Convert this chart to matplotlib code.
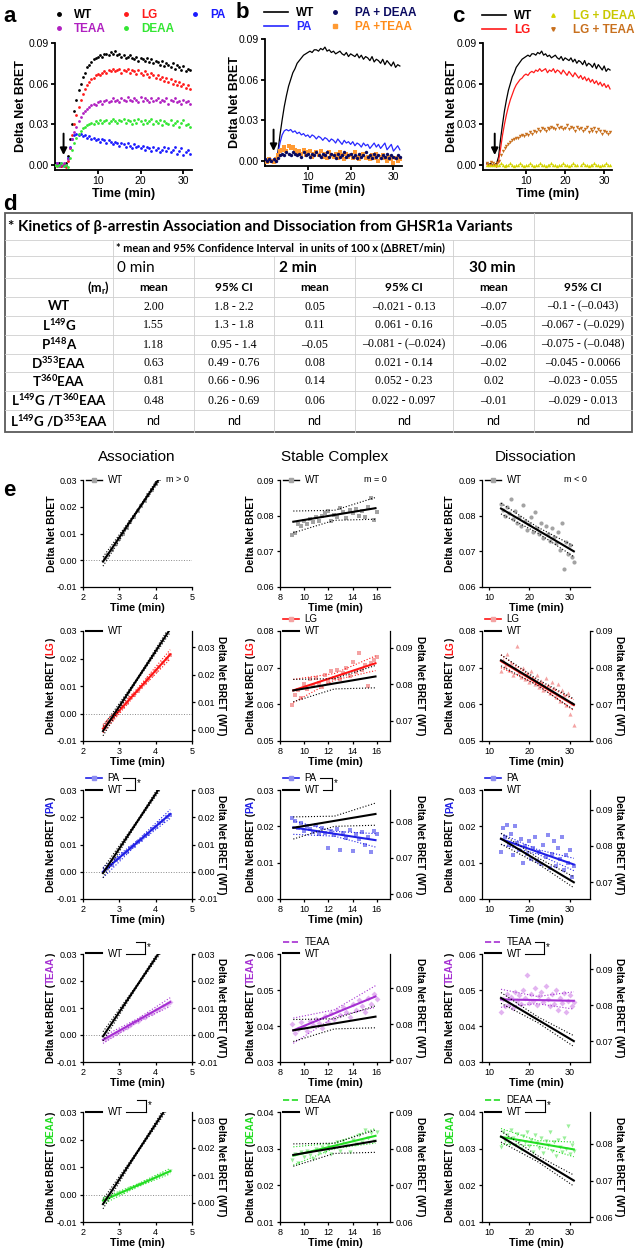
import numpy as np
import matplotlib
matplotlib.use("Agg")
import matplotlib.pyplot as plt
from matplotlib.lines import Line2D
from matplotlib.ticker import MultipleLocator, FormatStrFormatter

plt.rcParams['font.family'] = ['Liberation Sans', 'DejaVu Sans']
plt.rcParams['mathtext.fontset'] = 'custom'
plt.rcParams['mathtext.rm'] = 'Lato'
plt.rcParams['mathtext.bf'] = 'Lato:bold'
plt.rcParams['axes.unicode_minus'] = False

# ---------------- kinetic traces (panels a-c), one value every 0.5 min ----------------
time = np.arange(0, 32, 0.5)
stim_time = 2.0

wt = [0.001, 0.000, 0.001, -0.001, 0.000, 0.001, 0.006, 0.019,
      0.030, 0.040, 0.048, 0.055, 0.060, 0.065, 0.068, 0.072,
      0.074, 0.076, 0.078, 0.079, 0.080, 0.081, 0.080, 0.082,
      0.082, 0.081, 0.083, 0.082, 0.084, 0.081, 0.082, 0.080,
      0.081, 0.079, 0.080, 0.081, 0.079, 0.078, 0.080, 0.077,
      0.079, 0.078, 0.077, 0.079, 0.076, 0.078, 0.075, 0.077,
      0.076, 0.074, 0.077, 0.073, 0.075, 0.074, 0.072, 0.075,
      0.071, 0.074, 0.072, 0.070, 0.073, 0.069, 0.071, 0.070]
lg = [0.000, -0.001, 0.000, -0.001, 0.000, -0.002, 0.003, 0.012,
      0.022, 0.030, 0.037, 0.043, 0.048, 0.052, 0.056, 0.059,
      0.061, 0.063, 0.064, 0.066, 0.067, 0.066, 0.068, 0.069,
      0.068, 0.070, 0.069, 0.071, 0.069, 0.070, 0.071, 0.068,
      0.070, 0.069, 0.071, 0.068, 0.070, 0.069, 0.067, 0.070,
      0.068, 0.066, 0.069, 0.067, 0.065, 0.068, 0.066, 0.064,
      0.066, 0.063, 0.065, 0.062, 0.064, 0.061, 0.063, 0.060,
      0.062, 0.059, 0.061, 0.058, 0.060, 0.057, 0.059, 0.056]
pa = [0.000, 0.001, 0.000, 0.001, -0.001, 0.000, 0.005, 0.013,
      0.019, 0.022, 0.023, 0.022, 0.023, 0.021, 0.022, 0.020,
      0.021, 0.019, 0.020, 0.018, 0.019, 0.017, 0.019, 0.018,
      0.016, 0.018, 0.017, 0.015, 0.017, 0.016, 0.014, 0.016,
      0.015, 0.013, 0.016, 0.014, 0.012, 0.015, 0.013, 0.014,
      0.012, 0.014, 0.011, 0.013, 0.012, 0.010, 0.013, 0.011,
      0.012, 0.009, 0.011, 0.013, 0.010, 0.012, 0.009, 0.011,
      0.013, 0.008, 0.010, 0.012, 0.007, 0.009, 0.011, 0.008]
teaa = [0.000, 0.001, -0.001, 0.000, 0.001, 0.000, 0.004, 0.012,
        0.019, 0.024, 0.028, 0.032, 0.035, 0.038, 0.040, 0.041,
        0.043, 0.044, 0.045, 0.044, 0.046, 0.047, 0.045, 0.047,
        0.048, 0.046, 0.047, 0.049, 0.047, 0.048, 0.046, 0.049,
        0.048, 0.047, 0.050, 0.048, 0.047, 0.049, 0.048, 0.046,
        0.050, 0.047, 0.049, 0.048, 0.046, 0.049, 0.047, 0.048,
        0.049, 0.046, 0.048, 0.047, 0.049, 0.045, 0.048, 0.047,
        0.049, 0.046, 0.047, 0.045, 0.048, 0.046, 0.047, 0.045]
deaa = [0.000, -0.001, 0.000, 0.001, -0.001, 0.000, -0.002, 0.005,
        0.011, 0.016, 0.020, 0.023, 0.025, 0.027, 0.028, 0.029,
        0.030, 0.031, 0.030, 0.032, 0.031, 0.033, 0.031, 0.032,
        0.033, 0.031, 0.032, 0.034, 0.032, 0.031, 0.033, 0.032,
        0.034, 0.031, 0.033, 0.032, 0.030, 0.033, 0.031, 0.034,
        0.032, 0.030, 0.033, 0.031, 0.032, 0.034, 0.030, 0.032,
        0.031, 0.033, 0.029, 0.032, 0.031, 0.030, 0.033, 0.029,
        0.031, 0.032, 0.028, 0.031, 0.033, 0.029, 0.030, 0.028]
pa_deaa = [0.001, 0.000, 0.001, 0.000, 0.001, 0.000, 0.002, 0.004,
           0.005, 0.004, 0.006, 0.005, 0.004, 0.006, 0.005, 0.004,
           0.005, 0.003, 0.006, 0.004, 0.005, 0.003, 0.005, 0.004,
           0.006, 0.004, 0.003, 0.005, 0.004, 0.006, 0.003, 0.005,
           0.004, 0.002, 0.005, 0.003, 0.004, 0.006, 0.003, 0.004,
           0.005, 0.003, 0.004, 0.002, 0.005, 0.003, 0.004, 0.006,
           0.003, 0.004, 0.002, 0.005, 0.003, 0.004, 0.002, 0.004,
           0.003, 0.005, 0.002, 0.004, 0.003, 0.002, 0.004, 0.003]
pa_teaa = [0.000, -0.001, 0.001, 0.000, -0.001, 0.001, 0.004, 0.007,
           0.008, 0.010, 0.007, 0.011, 0.009, 0.010, 0.008, 0.006,
           0.007, 0.005, 0.008, 0.004, 0.006, 0.007, 0.003, 0.005,
           0.006, 0.004, 0.007, 0.003, 0.005, 0.002, 0.006, 0.004,
           0.003, 0.005, 0.002, 0.006, 0.004, 0.001, 0.005, 0.003,
           0.004, 0.002, 0.006, 0.003, 0.001, 0.004, 0.005, 0.002,
           0.003, 0.001, 0.004, 0.002, 0.005, 0.000, 0.003, 0.004,
           0.002, 0.000, 0.003, 0.001, -0.002, 0.002, 0.000, 0.001]
lg_deaa = [0.000, 0.000, 0.000, 0.000, 0.000, 0.000, 0.000, 0.001,
           0.000, -0.001, 0.000, 0.000, 0.001, 0.000, -0.001, 0.000,
           0.000, 0.001, 0.000, -0.001, 0.000, 0.000, 0.001, 0.000,
           -0.001, 0.000, 0.000, 0.001, 0.000, 0.000, -0.001, 0.000,
           0.000, 0.001, 0.000, 0.000, -0.001, 0.000, 0.000, 0.001,
           0.000, 0.000, -0.001, 0.000, 0.001, 0.000, 0.000, -0.007,
           0.000, 0.001, 0.000, 0.000, -0.001, 0.000, 0.000, 0.001,
           0.000, 0.000, -0.001, 0.000, 0.000, 0.001, 0.000, 0.000]
lg_teaa = [0.001, 0.000, 0.002, 0.001, 0.000, 0.001, 0.003, 0.007,
           0.010, 0.012, 0.014, 0.015, 0.017, 0.018, 0.019, 0.020,
           0.020, 0.021, 0.022, 0.021, 0.023, 0.022, 0.024, 0.023,
           0.025, 0.024, 0.026, 0.025, 0.027, 0.026, 0.025, 0.027,
           0.026, 0.028, 0.027, 0.026, 0.029, 0.027, 0.028, 0.026,
           0.027, 0.029, 0.026, 0.028, 0.027, 0.025, 0.028, 0.026,
           0.027, 0.025, 0.026, 0.028, 0.024, 0.026, 0.025, 0.027,
           0.024, 0.026, 0.025, 0.023, 0.025, 0.024, 0.023, 0.024]

# ---------------- table (panel d) ----------------
table_title = "* Kinetics of \u03b2-arrestin Association and Dissociation from GHSR1a Variants"
table_note = "* mean and 95% Confidence Interval  in units of 100 x (\u0394BRET/min)"
table_rows = ['WT', r'L$^{\mathbf{149}}$G', r'P$^{\mathbf{148}}$A', r'D$^{\mathbf{353}}$EAA',
              r'T$^{\mathbf{360}}$EAA', r'L$^{\mathbf{149}}$G /T$^{\mathbf{360}}$EAA',
              r'L$^{\mathbf{149}}$G /D$^{\mathbf{353}}$EAA']
mean_0 = ['2.00', '1.55', '1.18', '0.63', '0.81', '0.48', 'nd']
ci_0 = ['1.8 - 2.2', '1.3 - 1.8', '0.95 - 1.4', '0.49 - 0.76', '0.66 - 0.96', '0.26 - 0.69', 'nd']
mean_2 = ['0.05', '0.11', '\u20130.05', '0.08', '0.14', '0.06', 'nd']
ci_2 = ['\u20130.021 - 0.13', '0.061 - 0.16', '\u20130.081 - (\u20130.024)', '0.021 - 0.14',
        '0.052 - 0.23', '0.022 - 0.097', 'nd']
mean_30 = ['\u20130.07', '\u20130.05', '\u20130.06', '\u20130.02', '0.02', '\u20130.01', 'nd']
ci_30 = ['\u20130.1 - (\u20130.043)', '\u20130.067 - (\u20130.029)', '\u20130.075 - (\u20130.048)',
         '\u20130.045 - 0.0066', '\u20130.023 - 0.055', '\u20130.029 - 0.013', 'nd']

# ---------------- regression phases (panel e) ----------------
assoc_t = np.round(np.arange(2.6, 4.45, 0.1), 2)
stable_t = np.arange(9.0, 16.01, 0.25)
dissoc_t = np.arange(13.0, 31.01, 0.5)
fit_t = {'assoc': [2.55, 4.4], 'stable': [9.1, 15.9], 'dissoc': [13, 31]}
band_t = {'assoc': [2.55, 3.5, 4.4], 'stable': [9.1, 12.5, 15.9], 'dissoc': [13, 22, 31]}

wt_assoc = [0.0008, 0.0021, 0.0040, 0.0060, 0.0081, 0.0100, 0.0122, 0.0142, 0.0162, 0.0183,
            0.0203, 0.0223, 0.0244, 0.0264, 0.0285, 0.0305, 0.0325, 0.0345, 0.0366]
lg_assoc = [-0.0048, -0.0032, -0.0020, -0.0002, 0.0010, 0.0025, 0.0038, 0.0055, 0.0068, 0.0082,
            0.0098, 0.0112, 0.0125, 0.0140, 0.0155, 0.0170, 0.0183, 0.0198, 0.0212]
pa_assoc = [0.0006, 0.0018, 0.0025, 0.0042, 0.0050, 0.0065, 0.0072, 0.0088, 0.0095, 0.0110,
            0.0118, 0.0133, 0.0140, 0.0156, 0.0164, 0.0178, 0.0186, 0.0200, 0.0208]
teaa_assoc = [-0.0015, -0.0008, 0.0001, 0.0008, 0.0016, 0.0023, 0.0031, 0.0038, 0.0047, 0.0053,
              0.0062, 0.0068, 0.0077, 0.0083, 0.0092, 0.0098, 0.0107, 0.0113, 0.0122]
deaa_assoc = [-0.0018, -0.0015, -0.0006, -0.0003, 0.0006, 0.0010, 0.0017, 0.0023, 0.0028, 0.0035,
              0.0039, 0.0046, 0.0050, 0.0057, 0.0063, 0.0068, 0.0074, 0.0080, 0.0086]

wt_stable = [0.0745, 0.0752, 0.0778, 0.0770, 0.0785, 0.0776, 0.0790, 0.0781, 0.0795, 0.0786,
             0.0799, 0.0808, 0.0812, 0.0785, 0.0803, 0.0797, 0.0822, 0.0810, 0.0794, 0.0816,
             0.0807, 0.0820, 0.0800, 0.0812, 0.0795, 0.0825, 0.0850, 0.0788, 0.0810]
lg_stable = [0.0598, 0.0625, 0.0640, 0.0618, 0.0655, 0.0642, 0.0668, 0.0650, 0.0672, 0.0658,
             0.0648, 0.0680, 0.0662, 0.0690, 0.0672, 0.0695, 0.0668, 0.0685, 0.0700, 0.0678,
             0.0715, 0.0688, 0.0740, 0.0695, 0.0708, 0.0650, 0.0712, 0.0720, 0.0730]
pa_stable = [0.0222, 0.0215, 0.0195, 0.0208, 0.0188, 0.0200, 0.0192, 0.0185, 0.0205, 0.0178,
             0.0196, 0.0183, 0.0140, 0.0188, 0.0175, 0.0192, 0.0135, 0.0182, 0.0168, 0.0190,
             0.0132, 0.0178, 0.0165, 0.0185, 0.0150, 0.0170, 0.0130, 0.0188, 0.0178]
teaa_stable = [0.0405, 0.0380, 0.0392, 0.0410, 0.0398, 0.0385, 0.0415, 0.0402, 0.0420, 0.0408,
               0.0395, 0.0428, 0.0412, 0.0435, 0.0420, 0.0445, 0.0430, 0.0452, 0.0438, 0.0425,
               0.0460, 0.0445, 0.0472, 0.0455, 0.0440, 0.0478, 0.0462, 0.0490, 0.0475]
deaa_stable = [0.0268, 0.0285, 0.0262, 0.0290, 0.0278, 0.0295, 0.0283, 0.0272, 0.0300, 0.0288,
               0.0305, 0.0292, 0.0310, 0.0285, 0.0302, 0.0318, 0.0295, 0.0322, 0.0308, 0.0290,
               0.0325, 0.0312, 0.0338, 0.0318, 0.0350, 0.0328, 0.0342, 0.0320, 0.0345]

wt_dissoc = [0.0832, 0.0815, 0.0798, 0.0825, 0.0808, 0.0848, 0.0790, 0.0812, 0.0780, 0.0795,
             0.0772, 0.0830, 0.0785, 0.0760, 0.0778, 0.0795, 0.0755, 0.0810, 0.0765, 0.0748,
             0.0780, 0.0738, 0.0772, 0.0750, 0.0728, 0.0765, 0.0740, 0.0722, 0.0755, 0.0705,
             0.0780, 0.0650, 0.0725, 0.0692, 0.0718, 0.0685, 0.0670]
lg_dissoc = [0.0690, 0.0720, 0.0705, 0.0738, 0.0695, 0.0712, 0.0680, 0.0702, 0.0760, 0.0688,
             0.0675, 0.0698, 0.0668, 0.0685, 0.0660, 0.0692, 0.0672, 0.0655, 0.0680, 0.0648,
             0.0665, 0.0640, 0.0672, 0.0652, 0.0630, 0.0660, 0.0645, 0.0620, 0.0655, 0.0610,
             0.0640, 0.0625, 0.0598, 0.0630, 0.0575, 0.0605, 0.0545]
pa_dissoc = [0.0130, 0.0195, 0.0170, 0.0205, 0.0150, 0.0180, 0.0120, 0.0200, 0.0155, 0.0135,
             0.0165, 0.0100, 0.0145, 0.0125, 0.0160, 0.0110, 0.0140, 0.0170, 0.0105, 0.0130,
             0.0095, 0.0150, 0.0115, 0.0175, 0.0085, 0.0125, 0.0160, 0.0090, 0.0140, 0.0110,
             0.0170, 0.0080, 0.0120, 0.0100, 0.0135, 0.0060, 0.0090]
teaa_dissoc = [0.0440, 0.0475, 0.0455, 0.0490, 0.0462, 0.0480, 0.0450, 0.0495, 0.0470, 0.0485,
               0.0460, 0.0500, 0.0478, 0.0542, 0.0465, 0.0488, 0.0470, 0.0505, 0.0458, 0.0482,
               0.0495, 0.0468, 0.0510, 0.0475, 0.0455, 0.0490, 0.0462, 0.0500, 0.0445, 0.0478,
               0.0465, 0.0492, 0.0440, 0.0470, 0.0485, 0.0455, 0.0468]
deaa_dissoc = [0.0305, 0.0345, 0.0320, 0.0338, 0.0315, 0.0352, 0.0328, 0.0310, 0.0340, 0.0322,
               0.0300, 0.0335, 0.0318, 0.0345, 0.0308, 0.0325, 0.0292, 0.0338, 0.0315, 0.0302,
               0.0330, 0.0288, 0.0320, 0.0310, 0.0345, 0.0295, 0.0318, 0.0280, 0.0325, 0.0305,
               0.0290, 0.0330, 0.0300, 0.0362, 0.0285, 0.0310, 0.0295]

# fitted lines (start, end) and dotted 95% bands (start, middle, end)
wt_fit = {'assoc': [-0.0005, 0.0366], 'stable': [0.0783, 0.0821], 'dissoc': [0.0820, 0.0700]}
wt_hi = {'assoc': [0.0012, 0.0189, 0.0378], 'stable': [0.0813, 0.0815, 0.0851], 'dissoc': [0.0835, 0.0768, 0.0715]}
wt_lo = {'assoc': [-0.0022, 0.0181, 0.0354], 'stable': [0.0752, 0.0787, 0.0790], 'dissoc': [0.0805, 0.0752, 0.0685]}
lg_fit = {'assoc': [-0.0055, 0.0215], 'stable': [0.0638, 0.0712], 'dissoc': [0.0718, 0.0598]}
lg_hi = {'assoc': [-0.0040, 0.0091, 0.0232], 'stable': [0.0668, 0.0684, 0.0732], 'dissoc': [0.0735, 0.0663, 0.0613]}
lg_lo = {'assoc': [-0.0070, 0.0077, 0.0198], 'stable': [0.0605, 0.0666, 0.0692], 'dissoc': [0.0700, 0.0653, 0.0583]}
pa_fit = {'assoc': [0.0000, 0.0212], 'stable': [0.0197, 0.0162], 'dissoc': [0.0165, 0.0095]}
pa_hi = {'assoc': [0.0015, 0.0115, 0.0228], 'stable': [0.0215, 0.0186, 0.0180], 'dissoc': [0.0180, 0.0136, 0.0112]}
pa_lo = {'assoc': [-0.0022, 0.0103, 0.0196], 'stable': [0.0178, 0.0173, 0.0143], 'dissoc': [0.0150, 0.0124, 0.0078]}
teaa_fit = {'assoc': [-0.0018, 0.0122], 'stable': [0.0388, 0.0482], 'dissoc': [0.0474, 0.0470]}
teaa_hi = {'assoc': [-0.0005, 0.0060, 0.0138], 'stable': [0.0422, 0.0445, 0.0512], 'dissoc': [0.0502, 0.0482, 0.0495]}
teaa_lo = {'assoc': [-0.0031, 0.0048, 0.0106], 'stable': [0.0352, 0.0425, 0.0452], 'dissoc': [0.0452, 0.0462, 0.0447]}
deaa_fit = {'assoc': [-0.0022, 0.0085], 'stable': [0.0281, 0.0335], 'dissoc': [0.0332, 0.0298]}
deaa_hi = {'assoc': [-0.0012, 0.0038, 0.0095], 'stable': [0.0305, 0.0315, 0.0355], 'dissoc': [0.0355, 0.0322, 0.0318]}
deaa_lo = {'assoc': [-0.0035, 0.0028, 0.0075], 'stable': [0.0255, 0.0301, 0.0315], 'dissoc': [0.0312, 0.0308, 0.0278]}

variants = ['WT', 'LG', 'PA', 'TEAA', 'DEAA']
phases = ['assoc', 'stable', 'dissoc']
e_times = {'assoc': assoc_t, 'stable': stable_t, 'dissoc': dissoc_t}
e_pts = {'WT': [wt_assoc, wt_stable, wt_dissoc], 'LG': [lg_assoc, lg_stable, lg_dissoc],
         'PA': [pa_assoc, pa_stable, pa_dissoc], 'TEAA': [teaa_assoc, teaa_stable, teaa_dissoc],
         'DEAA': [deaa_assoc, deaa_stable, deaa_dissoc]}
e_fit = {'WT': wt_fit, 'LG': lg_fit, 'PA': pa_fit, 'TEAA': teaa_fit, 'DEAA': deaa_fit}
e_hi = {'WT': wt_hi, 'LG': lg_hi, 'PA': pa_hi, 'TEAA': teaa_hi, 'DEAA': deaa_hi}
e_lo = {'WT': wt_lo, 'LG': lg_lo, 'PA': pa_lo, 'TEAA': teaa_lo, 'DEAA': deaa_lo}

# axis scales (left axis, and shift of the WT right axis)
e_ylim = {'WT': [(-0.01, 0.03), (0.06, 0.09), (0.06, 0.09)],
          'LG': [(-0.01, 0.03), (0.05, 0.08), (0.05, 0.08)],
          'PA': [(-0.01, 0.03), (0.00, 0.03), (0.00, 0.03)],
          'TEAA': [(-0.01, 0.03), (0.03, 0.06), (0.03, 0.06)],
          'DEAA': [(-0.01, 0.03), (0.01, 0.04), (0.01, 0.04)]}
wt_shift = {'LG': [0.0059, 0.0145, 0.0100], 'PA': [0.0, 0.0587, 0.0654],
            'TEAA': [0.0, 0.0395, 0.0342], 'DEAA': [0.0030, 0.0500, 0.0487]}
significant = [('PA', 'assoc'), ('PA', 'stable'), ('TEAA', 'assoc'), ('TEAA', 'dissoc'),
               ('DEAA', 'assoc'), ('DEAA', 'dissoc')]

line_col = {'WT': 'black', 'LG': '#ff1414', 'PA': '#2020e6', 'TEAA': '#a52fd2', 'DEAA': '#22dd22'}
light_col = {'WT': '#a3a3a3', 'LG': '#f4a3a3', 'PA': '#8d8df2', 'TEAA': '#e2b3f0', 'DEAA': '#9bef9b'}
e_marker = {'WT': ['s', 's', 'o'], 'LG': ['s', 's', '^'], 'PA': ['s', 's', 's'],
            'TEAA': ['D', 'D', 'D'], 'DEAA': ['v', 'v', 'v']}

W, H = 635, 1250
fig = plt.figure(figsize=(W / 100, H / 100), dpi=100)


def px_axes(x0, y0, x1, y1):
    ax = fig.add_axes([x0 / W, 1 - y1 / H, (x1 - x0) / W, (y1 - y0) / H])
    ax.patch.set_alpha(0)
    return ax


def prism(ax, lw, fs, length=3):
    ax.spines['top'].set_visible(False)
    ax.spines['right'].set_visible(False)
    ax.spines['left'].set_linewidth(lw)
    ax.spines['bottom'].set_linewidth(lw)
    ax.tick_params(width=lw, length=length, labelsize=fs, pad=1.5)


# overlay in pixel coordinates for the table, panel letters and titles
ov = fig.add_axes([0, 0, 1, 1])
ov.set_xlim(0, W)
ov.set_ylim(H, 0)
ov.axis('off')

for letter, x, y in [('a', 3, 16), ('b', 236, 13), ('c', 452, 16), ('d', 3, 204), ('e', 3, 490)]:
    ov.text(x, y, letter, fontsize=16, fontweight='bold', ha='left', va='center')


# ---------------- panels a, b, c ----------------
def kinetic_axes(x0, y0, x1, y1, xlim, ylab_x):
    ax = px_axes(x0, y0, x1, y1)
    prism(ax, 1.3, 7.5)
    ax.set_xlim(*xlim)
    ax.set_ylim(-0.004, 0.09)
    ax.set_xticks([10, 20, 30])
    ax.set_yticks([0, 0.03, 0.06, 0.09])
    ax.yaxis.set_major_formatter(FormatStrFormatter('%.2f'))
    ax.set_xlabel('Time (min)', fontsize=9, fontweight='bold', labelpad=1)
    ax.text(ylab_x, 0.5, 'Delta Net BRET', rotation=90, ha='center', va='center',
            fontsize=9, fontweight='bold', transform=ax.transAxes)
    ax.annotate('', xy=(stim_time, 0.005), xytext=(stim_time, 0.025),
                arrowprops=dict(arrowstyle='-|>', color='black', lw=1.4, mutation_scale=10))
    return ax


ax_a = kinetic_axes(55, 43, 192, 170, (0, 32), -0.25)
a_series = [('WT', wt, 'black'), ('LG', lg, '#ff1a1a'), ('PA', pa, '#1a1aff'),
            ('TEAA', teaa, '#b020c0'), ('DEAA', deaa, '#33e633')]
for name, vals, col in a_series:
    ax_a.scatter(time, vals, s=4, color=col, lw=0, zorder=3)
order = [0, 3, 1, 4, 2]
h_a = [Line2D([], [], ls='', marker='o', ms=2.5, color=a_series[i][2]) for i in order]
ax_a.legend(h_a, [a_series[i][0] for i in order], ncol=3, loc='upper left',
            bbox_to_anchor=(54 / W, 1 - 9 / H), bbox_transform=fig.transFigure, frameon=False,
            prop=dict(size=8.5, weight='bold'), labelcolor=[a_series[i][2] for i in order],
            handlelength=0.8, handletextpad=0.9, columnspacing=1.3, labelspacing=0.15,
            borderpad=0, borderaxespad=0)

ax_b = kinetic_axes(265, 39, 402, 166, (0, 32), -0.22)
ax_b.plot(time, wt, color='black', lw=0.9)
ax_b.plot(time, pa, color='#2828ff', lw=0.9)
ax_b.scatter(time, pa_teaa, s=6, marker='s', color='#ff9a33', lw=0, zorder=3)
ax_b.scatter(time, pa_deaa, s=6, marker='o', color='#0a0a60', lw=0, zorder=3)
h_b = [Line2D([], [], color='black', lw=1.2), Line2D([], [], color='#2828ff', lw=1.2),
       Line2D([], [], ls='', marker='o', ms=2.5, color='#0a0a60'),
       Line2D([], [], ls='', marker='s', ms=2.5, color='#ff9a33')]
ax_b.legend(h_b, ['WT', 'PA', 'PA + DEAA', 'PA +TEAA'], ncol=2, loc='upper left',
            bbox_to_anchor=(264 / W, 1 - 7 / H), bbox_transform=fig.transFigure, frameon=False,
            prop=dict(size=8.5, weight='bold'),
            labelcolor=['black', '#2828ff', '#0a0a60', '#ff8c1a'],
            handlelength=2.0, handletextpad=0.7, columnspacing=0.8, labelspacing=0.15,
            borderpad=0, borderaxespad=0)

ax_c = kinetic_axes(483, 43, 612, 170, (-1, 32), -0.24)
ax_c.plot(time, wt, color='black', lw=0.9)
ax_c.plot(time, lg, color='#ff1a1a', lw=0.9)
ax_c.scatter(time, lg_teaa, s=6, marker='v', color='#c8701e', lw=0, zorder=3)
ax_c.scatter(time, lg_deaa, s=6, marker='^', color='#d4d400', lw=0, zorder=3)
h_c = [Line2D([], [], color='black', lw=1.2), Line2D([], [], color='#ff1a1a', lw=1.2),
       Line2D([], [], ls='', marker='^', ms=2.5, color='#d4d400'),
       Line2D([], [], ls='', marker='v', ms=2.5, color='#c8701e')]
ax_c.legend(h_c, ['WT', 'LG', 'LG + DEAA', 'LG + TEAA'], ncol=2, loc='upper left',
            bbox_to_anchor=(482 / W, 1 - 10 / H), bbox_transform=fig.transFigure, frameon=False,
            prop=dict(size=8.5, weight='bold'),
            labelcolor=['black', '#ff1a1a', '#c8c800', '#c8701e'],
            handlelength=2.0, handletextpad=0.7, columnspacing=0.8, labelspacing=0.15,
            borderpad=0, borderaxespad=0)

# ---------------- panel d: table ----------------
col_edges = [5, 113, 194, 274, 355, 453, 534, 632]
row_edges = [213, 240, 256, 278, 297, 316, 335, 354, 372, 391, 410, 432]
grid = dict(color='#cfcfcf', lw=0.6)
for y in row_edges[1:-1]:
    ov.plot([col_edges[0], col_edges[-1]], [y, y], **grid)
ov.plot([534, 534], [row_edges[0], row_edges[1]], **grid)
for x in [113, 453, 534]:
    ov.plot([x, x], [row_edges[1], row_edges[2]], **grid)
for x in col_edges[1:-1]:
    ov.plot([x, x], [row_edges[2], row_edges[-1]], **grid)
ov.add_patch(plt.Rectangle((col_edges[0], row_edges[0]), col_edges[-1] - col_edges[0],
                           row_edges[-1] - row_edges[0], fill=False, ec='#5a5a5a', lw=1.3))

sans = ['Lato', 'DejaVu Sans']
serif = ['Liberation Serif', 'DejaVu Serif']
ov.text(8, 227, table_title, family=sans, fontsize=10.9, fontweight='bold', va='center')
ov.text(116, 248, table_note, family=sans, fontsize=7.9, fontweight='bold', va='center')
ov.text(117, 267.5, '0 min', family=sans, fontsize=11, va='center')
ov.text(279, 267.5, '2 min', family=sans, fontsize=11, fontweight='bold', va='center')
ov.text(469, 267.5, '30 min', family=sans, fontsize=11, fontweight='bold', va='center')
ov.text(110, 287.5, r'(m$_{\mathbf{r}}$)', family=sans, fontsize=9, fontweight='bold', ha='right', va='center')
centers = [(col_edges[i] + col_edges[i + 1]) / 2 for i in range(len(col_edges) - 1)]
for i, head in enumerate(['mean', '95% CI', 'mean', '95% CI', 'mean', '95% CI']):
    ov.text(centers[i + 1], 287.5, head, family=sans, fontsize=8.5, fontweight='bold', ha='center', va='center')
for r, label in enumerate(table_rows):
    yc = (row_edges[r + 4] + row_edges[r + 5]) / 2
    ov.text(centers[0], yc, label, family=sans, fontsize=9.6, fontweight='bold', ha='center', va='center')
    for c, col in enumerate([mean_0, ci_0, mean_2, ci_2, mean_30, ci_30]):
        val = col[r]
        fam = sans if val == 'nd' else serif
        ov.text(centers[c + 1], yc, val, family=fam, fontsize=9 if val == 'nd' else 8.6,
                ha='center', va='center')

# ---------------- panel e ----------------
col_x = [(83, 192), (280, 390), (482, 590)]
row_y = [(480, 587), (631, 741), (790, 899), (954, 1062), (1112, 1222)]
e_xlim = {'assoc': (2, 5), 'stable': (8, 17.1), 'dissoc': (8.3, 35)}
e_xticks = {'assoc': [2, 3, 4, 5], 'stable': [8, 10, 12, 14, 16], 'dissoc': [10, 20, 30]}
ylab_left = [-0.295, -0.265, -0.295]
m_text = ['m > 0', 'm = 0', 'm < 0']

for title, xc in [('Association', 137), ('Stable Complex', 335), ('Dissociation', 536)]:
    ov.text(xc, 457, title, fontsize=11, ha='center', va='center')

color_labels = []
brackets = []
for r, var in enumerate(variants):
    for c, ph in enumerate(phases):
        x0, x1 = col_x[c]
        y0, y1 = row_y[r]
        ax = px_axes(x0, y0, x1, y1)
        prism(ax, 0.9, 6.5, length=2.5)
        ax.set_xlim(*e_xlim[ph])
        ax.set_xticks(e_xticks[ph])
        ax.set_ylim(*e_ylim[var][c])
        ax.yaxis.set_major_locator(MultipleLocator(0.01))
        ax.yaxis.set_major_formatter(FormatStrFormatter('%.2f'))
        ax.set_xlabel('Time (min)', fontsize=7.8, fontweight='bold', labelpad=1)
        if ph == 'assoc':
            ax.axhline(0, color='#8a8a8a', ls=':', lw=0.7, zorder=1)
        ax.scatter(e_times[ph], e_pts[var][c], s=9, marker=e_marker[var][c],
                   color=light_col[var], lw=0, zorder=2)
        ax.plot(fit_t[ph], e_fit[var][ph], color=line_col[var], lw=1.5, zorder=4)
        band_col = 'black' if var == 'WT' else line_col[var]
        ax.plot(band_t[ph], e_hi[var][ph], ls=':', color=band_col, lw=0.8, zorder=3)
        ax.plot(band_t[ph], e_lo[var][ph], ls=':', color=band_col, lw=0.8, zorder=3)

        if var == 'WT':
            ax.text(-0.28 if c == 0 else ylab_left[c], 0.5, 'Delta Net BRET', rotation=90,
                    ha='center', va='center', fontsize=7.5, fontweight='bold', transform=ax.transAxes)
            h = [Line2D([], [], color='black', lw=1, marker='s', ms=3,
                        mfc=light_col['WT'], mec=light_col['WT'])]
            ax.legend(h, ['WT'], loc='center left', bbox_to_anchor=(0.03, 1.0), frameon=False,
                      fontsize=7, handlelength=1.6, handletextpad=0.6, borderpad=0, borderaxespad=0)
            ax.text(0.97, 1.0, m_text[c], ha='right', va='center', fontsize=6.5, transform=ax.transAxes)
            continue

        lo, hi = e_ylim[var][c]
        sh = wt_shift[var][c]
        ax2 = ax.twinx()
        ax2.set_ylim(lo + sh, hi + sh)
        for s in ['top', 'left', 'bottom']:
            ax2.spines[s].set_visible(False)
        ax2.spines['right'].set_linewidth(0.9)
        ax2.tick_params(width=0.9, length=2.5, labelsize=6.5, pad=1.5)
        ax2.yaxis.set_major_locator(MultipleLocator(0.01))
        ax2.yaxis.set_major_formatter(FormatStrFormatter('%.2f'))
        ax2.plot(fit_t[ph], e_fit['WT'][ph], color='black', lw=1.5, zorder=4)
        ax2.plot(band_t[ph], e_hi['WT'][ph], ls=':', color='black', lw=0.8)
        ax2.plot(band_t[ph], e_lo['WT'][ph], ls=':', color='black', lw=0.8)
        ax2.text(1.27, 0.5, 'Delta Net BRET (WT)', rotation=270, ha='center', va='center',
                 fontsize=7.3, fontweight='bold', transform=ax.transAxes)

        parts = [('Delta Net BRET (', 'black'), (var, line_col[var]), (')', 'black')]
        texts = [ax.text(ylab_left[c], 0.5, s, color=col, rotation=90, ha='center', va='bottom',
                         fontsize=7.2, fontweight='bold', transform=ax.transAxes) for s, col in parts]
        color_labels.append((ax, texts))

        dashed = var in ('TEAA', 'DEAA')
        vh = Line2D([], [], color=line_col[var], lw=1.2, ls='--' if dashed else '-',
                    marker=None if dashed else 's', ms=3, mfc=light_col[var], mec=light_col[var])
        wh = Line2D([], [], color='black', lw=1.5)
        leg = ax2.legend([vh, wh], [var, 'WT'], loc='lower left', bbox_to_anchor=(0.03, 0.955),
                         frameon=False, fontsize=7, handlelength=1.6, handletextpad=0.6,
                         labelspacing=0.2, borderpad=0, borderaxespad=0)
        if ph == 'assoc' and var != 'PA':
            leg.legend_handles[0].set_visible(False)
            leg.get_texts()[0].set_color('none')
        if (var, ph) in significant:
            brackets.append(leg)

# place multi-coloured labels and significance brackets once text sizes are known
fig.canvas.draw()
rend = fig.canvas.get_renderer()
for ax, texts in color_labels:
    hs = [t.get_window_extent(rend).height for t in texts]
    axh = ax.get_window_extent(rend).height
    y = 0.5 - sum(hs) / 2 / axh
    for t, h in zip(texts, hs):
        t.set_y(y)
        y += h / axh
for leg in brackets:
    ext = [t.get_window_extent(rend) for t in leg.get_texts()]
    xr = max(e.x1 for e in ext) + 12
    ys = [(e.y0 + e.y1) / 2 for e in ext]
    for e, y in zip(ext, ys):
        fig.add_artist(Line2D([(e.x1 + 3) / W, xr / W], [y / H, y / H], color='black', lw=0.8))
    fig.add_artist(Line2D([xr / W, xr / W], [ys[1] / H, ys[0] / H], color='black', lw=0.8))
    fig.text((xr + 2) / W, ys[0] / H, '*', fontsize=7, ha='left', va='top')

fig.savefig('out.png', dpi=100)
